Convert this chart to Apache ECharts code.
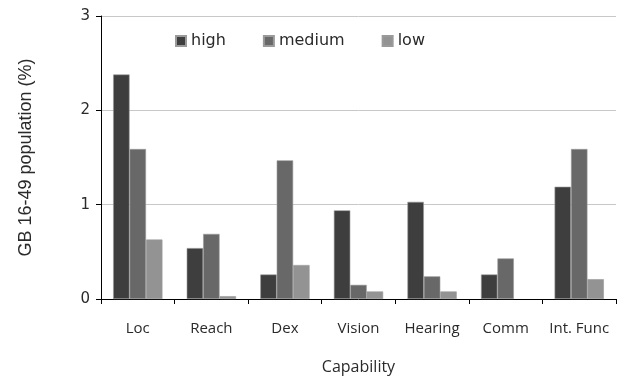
<!DOCTYPE html>
<html><head><meta charset="utf-8">
<script src="https://cdn.jsdelivr.net/npm/echarts@6/dist/echarts.min.js"></script>
<style>html,body{margin:0;padding:0;background:#fff}#c{width:621px;height:383px}</style>
</head><body><div id="c"></div>
<script>
const categories = ['Loc','Reach','Dex','Vision','Hearing','Comm','Int. Func'];
const high   = [2.38, 0.54, 0.26, 0.94, 1.03, 0.26, 1.19];
const medium = [1.59, 0.69, 1.47, 0.15, 0.24, 0.43, 1.59];
const low    = [0.63, 0.03, 0.36, 0.08, 0.08, 0, 0.21];
const yTicks = [0, 1, 2, 3];

const chart = echarts.init(document.getElementById('c'));
const mk = (name, data, color) => ({
  name, type: 'bar', barGap: '0%', barCategoryGap: '33%',
  data: data.map(v => v === 0 ? { value: v, itemStyle: { borderWidth: 0 } } : v),
  itemStyle: { color, borderColor: '#9a9a9a', borderWidth: 0.6 }
});
chart.setOption({
  animation: false,
  textStyle: { fontFamily: 'Liberation Sans' },
  grid: { left: 101, right: 5, top: 16, bottom: 84 },
  legend: {
    top: 28, left: 170, itemWidth: 10, itemHeight: 10, itemGap: 37,
    icon: 'rect',
    textStyle: { fontSize: 16, color: '#2a2a2a', fontFamily: 'DejaVu Sans' },
    data: ['high','medium','low']
  },
  xAxis: {
    type: 'category', data: categories,
    name: 'Capability', nameLocation: 'middle', nameGap: 60,
    nameTextStyle: { fontSize: 16, color: '#2a2a2a', fontFamily: 'Open Sans' },
    axisLine: { lineStyle: { color: '#000', width: 1 } },
    axisTick: { show: true, interval: 0, length: 5, lineStyle: { color: '#000' } },
    axisLabel: { interval: 0, margin: 22, fontSize: 15, color: '#2a2a2a', fontFamily: 'Open Sans' }
  },
  yAxis: {
    type: 'value', min: yTicks[0], max: yTicks[yTicks.length-1], interval: 1,
    name: 'GB 16-49 population (%)', nameLocation: 'middle', nameGap: 66,
    nameTextStyle: { fontSize: 18, color: '#2a2a2a', fontFamily: 'Liberation Sans' },
    axisLine: { show: true, lineStyle: { color: '#000', width: 1 } },
    axisTick: { show: true, length: 5, lineStyle: { color: '#000' } },
    axisLabel: { margin: 11, fontSize: 15, color: '#2a2a2a', fontFamily: 'DejaVu Sans' },
    splitLine: { lineStyle: { color: '#c8c8c8', width: 1 } }
  },
  series: [
    mk('high', high, '#3e3e3e'),
    mk('medium', medium, '#686868'),
    mk('low', low, '#939393')
  ]
});
</script></body></html>
